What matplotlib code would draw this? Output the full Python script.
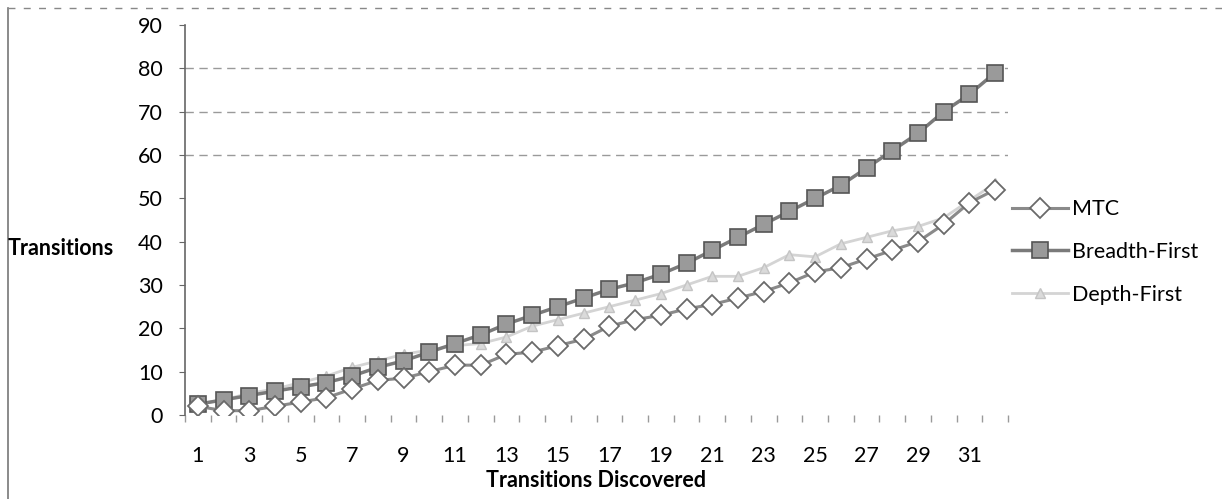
import numpy as np
import matplotlib
matplotlib.use("Agg")
import matplotlib.pyplot as plt
from matplotlib.lines import Line2D

# values (estimates)
steps = list(range(1, 33))
mtc = [2, 1, 1, 2, 3, 4, 6, 8, 8.5, 10, 11.5, 11.5, 14, 14.5, 16, 17.5,
       20.5, 22, 23, 24.5, 25.5, 27, 28.5, 30.5, 33, 34, 36, 38, 40, 44, 49, 52]
breadth = [2.5, 3.5, 4.5, 5.5, 6.5, 7.5, 9, 11, 12.5, 14.5, 16.5, 18.5, 21, 23, 25, 27,
           29, 30.5, 32.5, 35, 38, 41, 44, 47, 50, 53, 57, 61, 65, 70, 74, 79]
depth = [2.5, 3.5, 5, 6, 7.5, 9, 11, 12.5, 14, 15, 16, 16.5, 18, 20.5, 22, 23.5,
         25, 26.5, 28, 30, 32, 32, 34, 37, 36.5, 39.5, 41, 42.5, 43.5, 45.5, 49.5, 53.5]
series_names = ["MTC", "Breadth-First", "Depth-First"]
x_labels = [str(i) for i in range(1, 33, 2)]
y_ticks = list(range(0, 100, 10))
shown_grid = [60, 70, 80]

plt.rcParams['font.family'] = ['Lato', 'DejaVu Sans']
fs = 15.5

fig = plt.figure(figsize=(12.22, 4.99), dpi=100)
ax = fig.add_axes([185 / 1222, 1 - 415 / 499, (1008 - 185) / 1222, 390 / 499])

ax.plot(steps, depth, color='#d4d4d4', lw=2, marker='^', ms=7,
        mfc='#dadada', mec='#c4c4c4', label=series_names[2], zorder=3)
ax.plot(steps, breadth, color='#7a7a7a', lw=2.5, marker='s', ms=12,
        mfc='#9a9a9a', mec='#555555', mew=1.2, label=series_names[1], zorder=4)
ax.plot(steps, mtc, color='#8a8a8a', lw=2.2, marker='D', ms=10,
        mfc='white', mec='#6a6a6a', mew=1.3, label=series_names[0], zorder=5)

ax.set_xlim(0.5, 32.5)
ax.set_ylim(0, 90)
ax.set_yticks(y_ticks)
ax.set_yticklabels([str(v) for v in y_ticks], fontsize=fs)
ax.set_xticks(range(1, 33, 2))
ax.set_xticklabels(x_labels, fontsize=fs)
ax.set_xticks(np.arange(0.5, 33, 1), minor=True)
ax.tick_params(axis='x', which='major', length=0, pad=22)
ax.tick_params(axis='x', which='minor', length=5, color='#9a9a9a', width=1)
ax.tick_params(axis='y', length=4, color='#666666', pad=12)

for s in ['top', 'right', 'bottom']:
    ax.spines[s].set_visible(False)
ax.spines['left'].set_color('#666666')
ax.spines['left'].set_linewidth(1.2)

ax.yaxis.grid(True, color='#9a9a9a', lw=1.0, ls=(0, (6, 4)))
for tick_val, gl in zip(y_ticks, ax.get_ygridlines()):
    gl.set_visible(tick_val in shown_grid)
ax.set_axisbelow(True)

ax.set_xlabel("Transitions Discovered", fontsize=fs, fontweight='bold', labelpad=3)
fig.text(8 / 1222, 1 - 248 / 499, "Transitions", fontsize=fs, fontweight='bold',
         ha='left', va='center')

handles, labels = ax.get_legend_handles_labels()
order = [2, 1, 0]
fig.legend([handles[i] for i in order], [labels[i] for i in order],
           loc='center left', bbox_to_anchor=(1012 / 1222, 1 - 252 / 499),
           frameon=False, fontsize=fs, handlelength=2.6, handletextpad=0.2,
           labelspacing=1.05, borderpad=0, borderaxespad=0)

# outer chart frame (left edge and dashed top edge)
fig.add_artist(Line2D([8 / 1222, 8 / 1222], [0, 1 - 8 / 499], transform=fig.transFigure,
                      color='#777777', lw=1.2))
fig.add_artist(Line2D([8 / 1222, 1], [1 - 8 / 499, 1 - 8 / 499], transform=fig.transFigure,
                      color='#888888', lw=1.0, ls=(0, (5, 6))))

fig.savefig("out.png", dpi=100)
